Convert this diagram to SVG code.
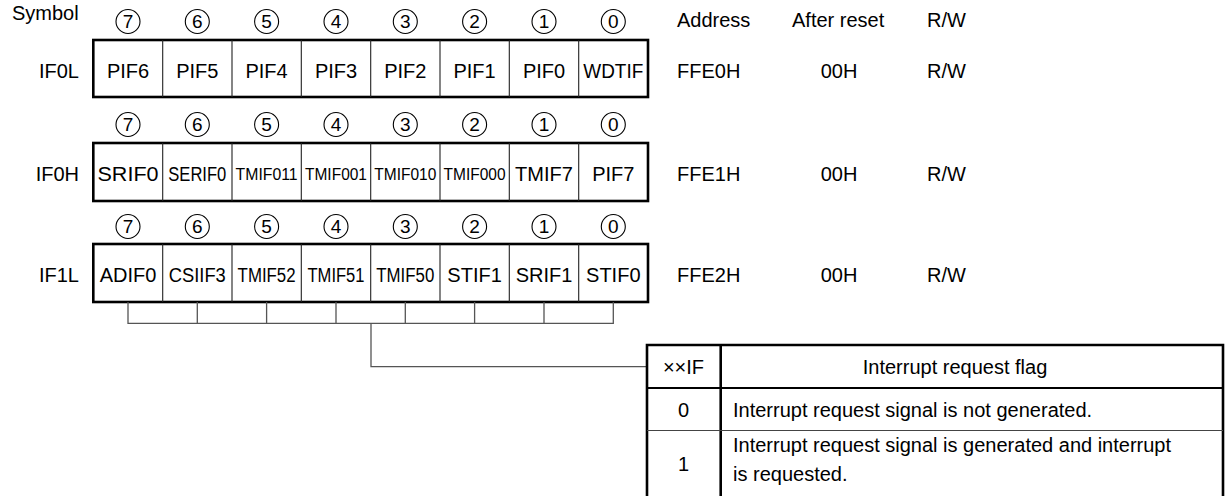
<svg xmlns="http://www.w3.org/2000/svg" width="1225" height="496" viewBox="0 0 1225 496">
<style>
text{font-family:"Liberation Sans",Arial,sans-serif;font-size:20px;fill:#000}
.c{text-anchor:middle}
.n{font-size:17px}
.d{font-size:19px;text-anchor:middle}
.box{fill:none;stroke:#000;stroke-width:2.6}
.div{stroke:#222;stroke-width:1.1}
.bit{fill:none;stroke:#000;stroke-width:1.1}
.con{fill:none;stroke:#555;stroke-width:1.3}
.tb{font-size:20px}
</style>
<rect width="1225" height="496" fill="#fff"/>
<g id="headers">
<text x="12" y="19.5">Symbol</text>
<text x="677" y="27">Address</text>
<text x="792" y="27">After reset</text>
<text x="927" y="27">R/W</text>
</g>
<g id="IF0L">
<text x="79" y="78" text-anchor="end">IF0L</text>
<g class="bits">
<circle class="bit" cx="128" cy="21.5" r="12"/><text class="d" x="128" y="28.3">7</text>
<circle class="bit" cx="197.3" cy="21.5" r="12"/><text class="d" x="197.3" y="28.3">6</text>
<circle class="bit" cx="266.6" cy="21.5" r="12"/><text class="d" x="266.6" y="28.3">5</text>
<circle class="bit" cx="336" cy="21.5" r="12"/><text class="d" x="336" y="28.3">4</text>
<circle class="bit" cx="405.3" cy="21.5" r="12"/><text class="d" x="405.3" y="28.3">3</text>
<circle class="bit" cx="474.6" cy="21.5" r="12"/><text class="d" x="474.6" y="28.3">2</text>
<circle class="bit" cx="544" cy="21.5" r="12"/><text class="d" x="544" y="28.3">1</text>
<circle class="bit" cx="613.3" cy="21.5" r="12"/><text class="d" x="613.3" y="28.3">0</text>
</g>
<rect class="box" x="93.3" y="40" width="554.7" height="57"/>
<path class="div" d="M162.7 40V97M232 40V97M301.3 40V97M370.7 40V97M440 40V97M509.3 40V97M578.7 40V97"/>
<text class="c" x="128" y="78">PIF6</text>
<text class="c" x="197.3" y="78">PIF5</text>
<text class="c" x="266.6" y="78">PIF4</text>
<text class="c" x="336" y="78">PIF3</text>
<text class="c" x="405.3" y="78">PIF2</text>
<text class="c" x="474.6" y="78">PIF1</text>
<text class="c" x="544" y="78">PIF0</text>
<text class="c" x="613.3" y="78" textLength="60" lengthAdjust="spacingAndGlyphs">WDTIF</text>
<text x="677" y="78">FFE0H</text>
<text class="c" x="839" y="78">00H</text>
<text x="927" y="78">R/W</text>
</g>
<g id="IF0H">
<text x="79" y="181" text-anchor="end">IF0H</text>
<g class="bits">
<circle class="bit" cx="128" cy="124.5" r="12"/><text class="d" x="128" y="131.3">7</text>
<circle class="bit" cx="197.3" cy="124.5" r="12"/><text class="d" x="197.3" y="131.3">6</text>
<circle class="bit" cx="266.6" cy="124.5" r="12"/><text class="d" x="266.6" y="131.3">5</text>
<circle class="bit" cx="336" cy="124.5" r="12"/><text class="d" x="336" y="131.3">4</text>
<circle class="bit" cx="405.3" cy="124.5" r="12"/><text class="d" x="405.3" y="131.3">3</text>
<circle class="bit" cx="474.6" cy="124.5" r="12"/><text class="d" x="474.6" y="131.3">2</text>
<circle class="bit" cx="544" cy="124.5" r="12"/><text class="d" x="544" y="131.3">1</text>
<circle class="bit" cx="613.3" cy="124.5" r="12"/><text class="d" x="613.3" y="131.3">0</text>
</g>
<rect class="box" x="93.3" y="143" width="554.7" height="58"/>
<path class="div" d="M162.7 143V201M232 143V201M301.3 143V201M370.7 143V201M440 143V201M509.3 143V201M578.7 143V201"/>
<text class="c" x="128" y="181" textLength="61" lengthAdjust="spacingAndGlyphs">SRIF0</text>
<text class="c" x="197.3" y="181" textLength="58" lengthAdjust="spacingAndGlyphs">SERIF0</text>
<text class="c n" x="266.6" y="180" textLength="62" lengthAdjust="spacingAndGlyphs">TMIF011</text>
<text class="c n" x="336" y="180" textLength="62" lengthAdjust="spacingAndGlyphs">TMIF001</text>
<text class="c n" x="405.3" y="180" textLength="62" lengthAdjust="spacingAndGlyphs">TMIF010</text>
<text class="c n" x="474.6" y="180" textLength="62" lengthAdjust="spacingAndGlyphs">TMIF000</text>
<text class="c" x="544" y="181">TMIF7</text>
<text class="c" x="613.3" y="181">PIF7</text>
<text x="677" y="181">FFE1H</text>
<text class="c" x="839" y="181">00H</text>
<text x="927" y="181">R/W</text>
</g>
<g id="IF1L">
<text x="79" y="282" text-anchor="end">IF1L</text>
<g class="bits">
<circle class="bit" cx="128" cy="226.5" r="12"/><text class="d" x="128" y="233.3">7</text>
<circle class="bit" cx="197.3" cy="226.5" r="12"/><text class="d" x="197.3" y="233.3">6</text>
<circle class="bit" cx="266.6" cy="226.5" r="12"/><text class="d" x="266.6" y="233.3">5</text>
<circle class="bit" cx="336" cy="226.5" r="12"/><text class="d" x="336" y="233.3">4</text>
<circle class="bit" cx="405.3" cy="226.5" r="12"/><text class="d" x="405.3" y="233.3">3</text>
<circle class="bit" cx="474.6" cy="226.5" r="12"/><text class="d" x="474.6" y="233.3">2</text>
<circle class="bit" cx="544" cy="226.5" r="12"/><text class="d" x="544" y="233.3">1</text>
<circle class="bit" cx="613.3" cy="226.5" r="12"/><text class="d" x="613.3" y="233.3">0</text>
</g>
<rect class="box" x="93.3" y="244" width="554.7" height="58"/>
<path class="div" d="M162.7 244V302M232 244V302M301.3 244V302M370.7 244V302M440 244V302M509.3 244V302M578.7 244V302"/>
<text class="c" x="128" y="282">ADIF0</text>
<text class="c" x="197.3" y="282" textLength="57" lengthAdjust="spacingAndGlyphs">CSIIF3</text>
<text class="c" x="266.6" y="282" textLength="58" lengthAdjust="spacingAndGlyphs">TMIF52</text>
<text class="c" x="336" y="282" textLength="57" lengthAdjust="spacingAndGlyphs">TMIF51</text>
<text class="c" x="405.3" y="282" textLength="58" lengthAdjust="spacingAndGlyphs">TMIF50</text>
<text class="c" x="474.6" y="282">STIF1</text>
<text class="c" x="544" y="282">SRIF1</text>
<text class="c" x="613.3" y="282">STIF0</text>
<text x="677" y="282">FFE2H</text>
<text class="c" x="839" y="282">00H</text>
<text x="927" y="282">R/W</text>
</g>
<g id="connectors">
<path class="con" d="M128 302V323.3H613.3V302M197.3 302V323.3M266.6 302V323.3M336 302V323.3M405.3 302V323.3M474.6 302V323.3M544 302V323.3"/>
<path class="con" d="M371 323.3V366.7H647"/>
</g>
<g id="flag-table">
<path fill="none" stroke="#000" stroke-width="2.6" d="M647 500V345H1223V500"/>
<path fill="none" stroke="#000" stroke-width="2.6" d="M720.7 345V500"/>
<path fill="none" stroke="#000" stroke-width="2" d="M647 388H1223"/>
<path fill="none" stroke="#444" stroke-width="1.1" d="M647 430.5H1223"/>
<text class="c tb" x="683.5" y="373.5">××IF</text>
<text class="c tb" x="955" y="373.5">Interrupt request flag</text>
<text class="c tb" x="683.5" y="417">0</text>
<text class="tb" x="733" y="417">Interrupt request signal is not generated.</text>
<text class="c tb" x="683.5" y="470.5">1</text>
<text class="tb" x="733" y="452">Interrupt request signal is generated and interrupt</text>
<text class="tb" x="733" y="481">is requested.</text>
</g>
</svg>
